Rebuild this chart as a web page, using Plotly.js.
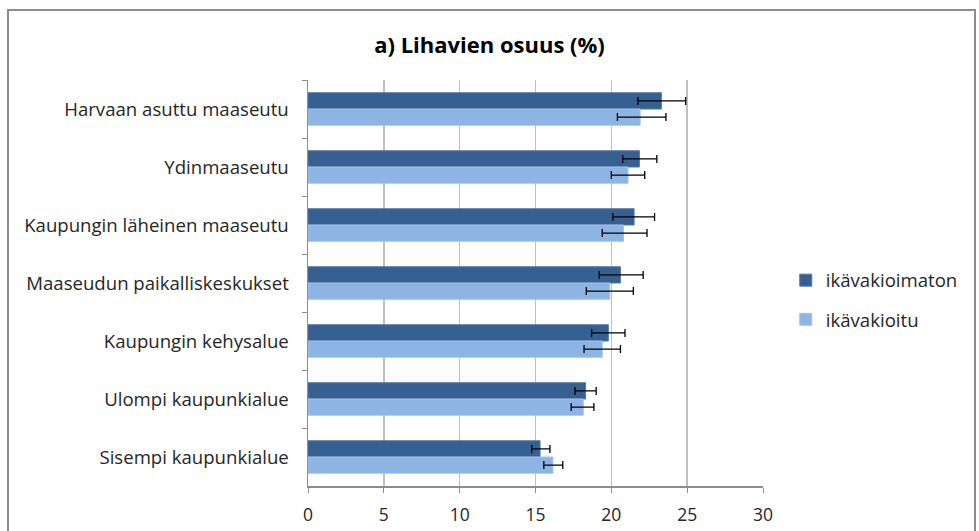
<!DOCTYPE html>
<html><head><meta charset="utf-8">
<script src="https://cdn.plot.ly/plotly-3.0.1.min.js"></script>
<style>
html,body{margin:0;padding:0;background:#fff;overflow:hidden}
#chart{position:absolute;left:0;top:0;width:979px;height:531px}
#frame{position:absolute;left:7px;top:9px;width:965px;height:540px;border:2px solid #8c8c8c;pointer-events:none}
</style></head>
<body>
<div id="chart"></div>
<div id="frame"></div>
<script>
const categories = ["Harvaan asuttu maaseutu","Ydinmaaseutu","Kaupungin läheinen maaseutu","Maaseudun paikalliskeskukset","Kaupungin kehysalue","Ulompi kaupunkialue","Sisempi kaupunkialue"];
const seriesNames = ["ikävakioimaton","ikävakioitu"];
const unadjusted = [23.3, 21.85, 21.5, 20.6, 19.8, 18.3, 15.3];
const unadjustedErrPlus = [1.6, 1.15, 1.35, 1.5, 1.1, 0.7, 0.65];
const unadjustedErrMinus = [1.55, 1.1, 1.4, 1.4, 1.1, 0.7, 0.55];
const adjusted = [21.9, 21.1, 20.8, 19.9, 19.4, 18.15, 16.15];
const adjustedErrPlus = [1.7, 1.1, 1.55, 1.55, 1.2, 0.7, 0.65];
const adjustedErrMinus = [1.5, 1.1, 1.4, 1.55, 1.2, 0.8, 0.6];
const xTicks = [0,5,10,15,20,25,30];

const font = "'Open Sans', Lato, sans-serif";
const txt = '#262626';
const errStyle = {type:'data', symmetric:false, color:'#000', thickness:1.3, width:4};
const traces = [
  {type:'bar', orientation:'h', name:seriesNames[0], y:categories, x:unadjusted,
   marker:{color:'#376092', line:{color:'#4f76a6', width:1}}, legendgroup:'a',
   error_x:Object.assign({array:unadjustedErrPlus, arrayminus:unadjustedErrMinus}, errStyle)},
  {type:'bar', orientation:'h', name:seriesNames[1], y:categories, x:adjusted,
   marker:{color:'#8eb4e3', line:{color:'#a4c3ea', width:1}}, legendgroup:'b',
   error_x:Object.assign({array:adjustedErrPlus, arrayminus:adjustedErrMinus}, errStyle)}
];
const layout = {
  width:979, height:531,
  margin:{l:308, r:216, t:80, b:45},
  paper_bgcolor:'#fff', plot_bgcolor:'#fff',
  font:{family:font, color:txt},
  title:{text:'<b>a) Lihavien osuus (%)</b>', font:{size:22, family:font, color:'#000'}, x:0.5, xanchor:'center', y:1-45/531, yanchor:'middle'},
  barmode:'group', bargap:0.44, bargroupgap:0,
  xaxis:{range:[0,30], tickvals:xTicks, ticktext:xTicks.map(String), showgrid:true, gridcolor:'#bfbfbf', gridwidth:1.5,
    zeroline:false, showline:true, linecolor:'#8c8c8c', linewidth:1.5, ticks:'outside', ticklen:5, tickcolor:'#8c8c8c',
    tickfont:{size:17.5, family:font, color:txt}, ticklabelstandoff:7, fixedrange:true},
  yaxis:{autorange:'reversed', type:'category', showline:true, linecolor:'#8c8c8c', linewidth:1.5, ticks:'outside', ticklen:5,
    tickcolor:'#8c8c8c', tickson:'boundaries', showgrid:false, tickfont:{size:18.6, family:font, color:txt}, ticklabelstandoff:14, fixedrange:true},
  legend:{x:1.05, xanchor:'left', y:0.458, yanchor:'middle', font:{size:18.6, family:font, color:txt}, tracegroupgap:12, traceorder:'grouped', itemwidth:30},
  showlegend:true
};
Plotly.newPlot('chart', traces, layout, {staticPlot:true});
</script>
</body></html>
